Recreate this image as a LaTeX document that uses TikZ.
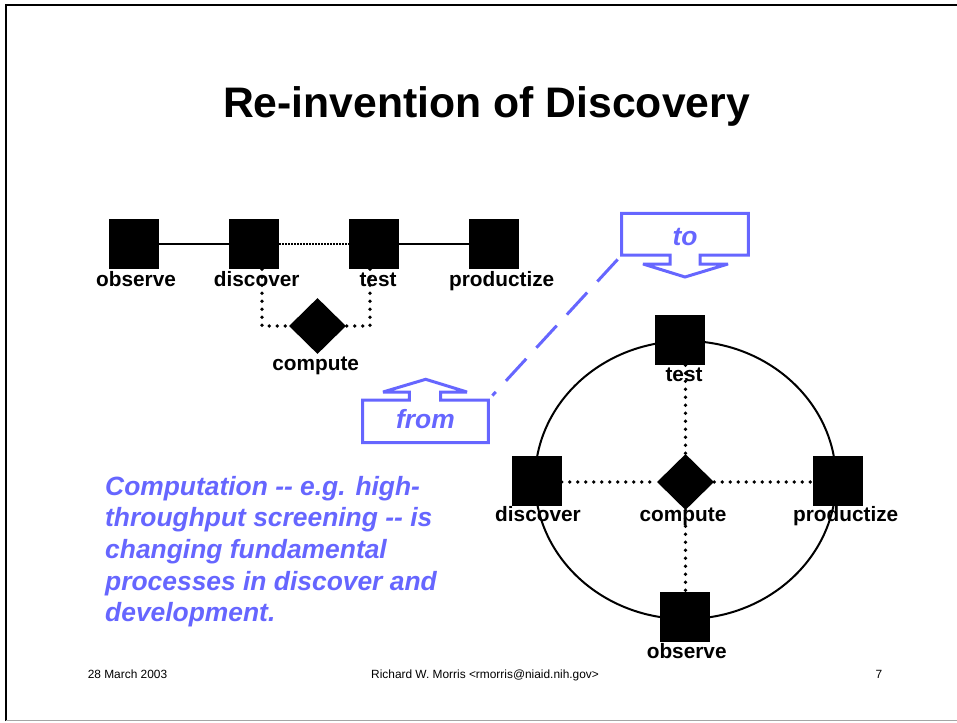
\documentclass[tikz,border=0pt]{standalone}
\usepackage{fontspec}
\newfontfamily\arial{Liberation Sans}
\usetikzlibrary{shapes.geometric,calc}
\definecolor{calloutblue}{RGB}{102,102,255}
\definecolor{footgray}{RGB}{165,165,165}

\begin{document}
\begin{tikzpicture}[x=1pt,y=-1pt,
  every node/.style={font=\arial},
  box/.style={rectangle,fill=black,minimum size=50pt,inner sep=0pt},
  hub/.style={diamond,fill=black,minimum width=57pt,minimum height=56pt,inner sep=0pt},
  lbl/.style={font=\fontsize{20.8}{24}\arial\bfseries,anchor=base,inner sep=0pt},
  link/.style={line width=2pt},
  finedots/.style={line width=2pt,dash pattern=on 1.5pt off 1.5pt},
  dots/.style={line width=3.8pt,line cap=round,dash pattern=on 0pt off 8pt},
  callout/.style={draw=calloutblue,line width=3pt,line join=miter,miter limit=1.5},
  bluetxt/.style={text=calloutblue,font=\fontsize{26.4}{31.7}\arial\bfseries\itshape,inner sep=0pt},
  foot/.style={font=\fontsize{11.9}{14}\arial,inner sep=0pt},
]
\useasboundingbox (0,0) rectangle (957,722);

% slide frame
\draw[line width=2.5pt] (6,721) -- (6,5) -- (957,5);
\draw[footgray,line width=1pt] (6,720.5) -- (957,720.5);

% title
\node[font=\fontsize{42.7}{50}\arial\bfseries,anchor=base,inner sep=0pt] (title) at (486.5,118) {Re-invention of Discovery};

% linear pipeline
\node[box] (o1) at (134,244) {};
\node[box] (d1) at (254,244) {};
\node[box] (t1) at (374,244) {};
\node[box] (p1) at (494,244) {};
\node[hub] (c1) at (317.5,326) {};
\draw[link] (o1) -- (d1);
\draw[finedots] (d1) -- (t1);
\draw[link] (t1) -- (p1);

\node[lbl] (o1l) at (136,286) {observe};
\node[lbl] (d1l) at (256.7,286) {discover};
\node[lbl] (t1l) at (378,286) {test};
\node[lbl] (p1l) at (501.7,286) {productize};
\node[lbl] (c1l) at (315.7,370) {compute};

\draw[dots] ([xshift=8pt]d1.south) |- (c1.west);
\draw[dots] ([xshift=-4pt]t1.south) |- (c1.east);

% cycle around computation
\node[ellipse,draw,line width=2pt,minimum width=301pt,minimum height=278pt,inner sep=0pt] (ring) at (685.5,480) {};
\node[box] (t2) at (680,340) {};
\node[box] (d2) at (536.5,481) {};
\node[box] (p2) at (838,481) {};
\node[box] (o2) at (685,617) {};
\node[hub] (c2) at (685.5,482) {};

\node[lbl] (t2l) at (684,381) {test};
\node[lbl] (d2l) at (538,521.7) {discover};
\node[lbl] (c2l) at (683,521.7) {compute};
\node[lbl] (p2l) at (845.7,521.7) {productize};
\node[lbl] (o2l) at (686.7,658) {observe};

\draw[dots] (d2.east |- c2.west) -- (c2.west);
\draw[dots] (c2.east) -- (p2.west |- c2.east);
\draw[dots] (c2.north |- t2.south) -- (c2.north);
\draw[dots] (c2.south) -- (c2.south |- o2.north);

% callouts
\draw[callout] (621.7,213.3) -- (748.3,213.3) -- (748.3,255) -- (700,255) -- (700,264)
  -- (728,264) -- (685,277) -- (643,264) -- (670,264) -- (670,255) -- (621.7,255) -- cycle;
\node[bluetxt,anchor=base] (to) at (685,245) {to};

\draw[callout] (362.7,442.7) -- (488.3,442.7) -- (488.3,400) -- (440.7,400) -- (440.7,392)
  -- (467,392) -- (425.7,379.3) -- (383,392) -- (409.3,392) -- (409.3,400) -- (362.7,400) -- cycle;
\node[bluetxt,anchor=base] (from) at (425.5,428) {from};

\coordinate (tocorner) at (621.7,255);
\coordinate (fromcorner) at (488.3,400);
\draw[calloutblue,line width=3pt,dash pattern=on 30pt off 15pt,shorten <=6pt,shorten >=6pt] (tocorner) -- (fromcorner);

% note
\node[bluetxt,anchor=north west,align=left] (note) at (105,475.8) {Computation -- e.g. high-\\throughput screening -- is\\changing fundamental\\processes in discover and\\development.};

% footer
\node[foot,anchor=base west] (date) at (87.6,678) {28 March 2003};
\node[foot,anchor=base west] (author) at (371,678) {Richard W. Morris <rmorris@niaid.nih.gov>};
\node[foot,anchor=base] (page) at (879,678) {7};
\end{tikzpicture}
\end{document}
